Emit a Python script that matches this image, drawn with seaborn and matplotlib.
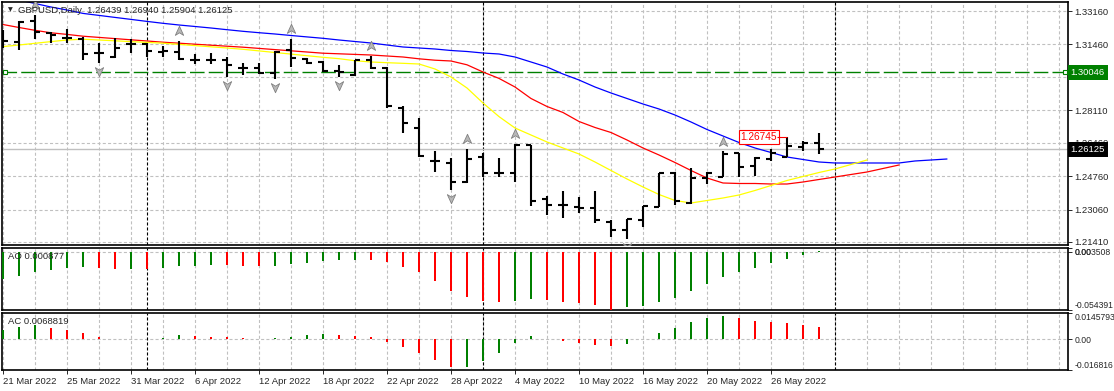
import numpy as np
import pandas as pd
import matplotlib
matplotlib.use("Agg")
import matplotlib.pyplot as plt
import matplotlib.transforms as mtransforms
from matplotlib.path import Path
import seaborn as sns

# ---- data ----
symbol = "GBPUSD"
timeframe = "Daily"

date_labels = ["21 Mar 2022", "25 Mar 2022", "31 Mar 2022", "6 Apr 2022", "12 Apr 2022",
               "18 Apr 2022", "22 Apr 2022", "28 Apr 2022", "4 May 2022", "10 May 2022",
               "16 May 2022", "20 May 2022", "26 May 2022"]
date_label_bars = [0, 4, 8, 12, 16, 20, 24, 28, 32, 36, 40, 44, 48]
month_start_bars = [9, 30, 52]

bar_open = [1.31786, 1.31583, 1.32651, 1.32041, 1.31786, 1.31736, 1.31023, 1.30820, 1.31481, 1.31481,
            1.31074, 1.31074, 1.30667, 1.30667, 1.30667, 1.30260, 1.30260, 1.30006, 1.31176, 1.30718,
            1.30566, 1.30108, 1.29904, 1.30667, 1.30260, 1.28226, 1.27208, 1.25529, 1.25428, 1.24461,
            1.25733, 1.24919, 1.24919, 1.26343, 1.23596, 1.23291, 1.23190, 1.23139, 1.22427, 1.22020,
            1.22529, 1.23190, 1.24919, 1.23393, 1.24665, 1.24715, 1.25936, 1.25275, 1.25631, 1.25733,
            1.26242, 1.26439]
bar_high = [1.32193, 1.32651, 1.32957, 1.32092, 1.32244, 1.31837, 1.31532, 1.31786, 1.31736, 1.31532,
            1.31380, 1.31634, 1.30973, 1.31023, 1.30820, 1.30515, 1.30515, 1.31125, 1.31736, 1.30769,
            1.30617, 1.30413, 1.30667, 1.30871, 1.30311, 1.28327, 1.27717, 1.26038, 1.25682, 1.26140,
            1.25936, 1.25682, 1.26394, 1.26343, 1.23749, 1.24003, 1.23698, 1.23980, 1.22529, 1.22580,
            1.23240, 1.24919, 1.24970, 1.25173, 1.24970, 1.26013, 1.25936, 1.25733, 1.26140, 1.26745,
            1.26547, 1.26940]
bar_low = [1.31278, 1.31176, 1.31736, 1.31532, 1.31532, 1.30667, 1.30515, 1.30769, 1.31023, 1.30820,
           1.30820, 1.30667, 1.30464, 1.30464, 1.29803, 1.29904, 1.29955, 1.29701, 1.30311, 1.30464,
           1.30057, 1.29803, 1.29853, 1.30210, 1.28226, 1.26954, 1.25733, 1.24970, 1.24054, 1.24410,
           1.24715, 1.24715, 1.24461, 1.23240, 1.22783, 1.22630, 1.22885, 1.22376, 1.21664, 1.21562,
           1.22173, 1.23190, 1.23291, 1.23342, 1.24359, 1.24715, 1.24715, 1.24766, 1.25529, 1.25733,
           1.26038, 1.25904]
bar_close = [1.31634, 1.32600, 1.32092, 1.31939, 1.31786, 1.30973, 1.31023, 1.31278, 1.31481, 1.31125,
             1.31125, 1.30718, 1.30667, 1.30667, 1.30413, 1.30260, 1.30006, 1.31074, 1.30769, 1.30515,
             1.30108, 1.30057, 1.30667, 1.30260, 1.28327, 1.27463, 1.25784, 1.25529, 1.24461, 1.25631,
             1.24919, 1.24919, 1.26343, 1.23495, 1.23291, 1.23291, 1.23139, 1.22529, 1.22020, 1.22580,
             1.23240, 1.24919, 1.23495, 1.24665, 1.24919, 1.25886, 1.25224, 1.25682, 1.25936, 1.26292,
             1.26439, 1.26125]

# Alligator lines (already shifted forward: jaw 8, teeth 5, lips 3 bars)
jaw = [1.33872, 1.33720, 1.33542, 1.33363, 1.33211, 1.33038, 1.32936, 1.32834, 1.32733, 1.32631,
       1.32534, 1.32448, 1.32372, 1.32295, 1.32209, 1.32127, 1.32056, 1.31990, 1.31914, 1.31842,
       1.31771, 1.31685, 1.31608, 1.31532, 1.31430, 1.31329, 1.31278, 1.31227, 1.31151, 1.31100,
       1.31023, 1.30973, 1.30820, 1.30566, 1.30311, 1.29955, 1.29650, 1.29294, 1.28989, 1.28709,
       1.28429, 1.28175, 1.27869, 1.27514, 1.27132, 1.26801, 1.26471, 1.26191, 1.25962, 1.25733,
       1.25606, 1.25479, 1.25428, 1.25428, 1.25428, 1.25428, 1.25428, 1.25530, 1.25580, 1.25631]
teeth = [1.32473, 1.32321, 1.32178, 1.32051, 1.31970, 1.31878, 1.31817, 1.31756, 1.31695, 1.31634,
         1.31573, 1.31522, 1.31471, 1.31420, 1.31369, 1.31319, 1.31258, 1.31196, 1.31135, 1.31074,
         1.31013, 1.30983, 1.30952, 1.30922, 1.30871, 1.30820, 1.30728, 1.30657, 1.30617, 1.30423,
         1.30057, 1.29731, 1.29294, 1.28709, 1.28302, 1.27997, 1.27539, 1.27234, 1.26979, 1.26598,
         1.26191, 1.25835, 1.25453, 1.25046, 1.24665, 1.24410, 1.24385, 1.24385, 1.24359, 1.24359,
         1.24461, 1.24589, 1.24715, 1.24843, 1.24970, 1.25148, 1.25326]
lips = [1.31349, 1.31430, 1.31517, 1.31603, 1.31685, 1.31725, 1.31685, 1.31644, 1.31603, 1.31563,
        1.31522, 1.31461, 1.31400, 1.31339, 1.31278, 1.31212, 1.31131, 1.31049, 1.30968, 1.30886,
        1.30805, 1.30734, 1.30632, 1.30566, 1.30530, 1.30499, 1.30464, 1.30210, 1.29803, 1.29243,
        1.28480, 1.27788, 1.27208, 1.26852, 1.26496, 1.26191, 1.25886, 1.25479, 1.25046, 1.24614,
        1.24207, 1.23825, 1.23520, 1.23393, 1.23520, 1.23647, 1.23800, 1.24029, 1.24283, 1.24538,
        1.24741, 1.24944, 1.25123, 1.25351, 1.25580]

ao = [-0.0257, -0.0224, -0.0186, -0.0168, -0.0149, -0.0147, -0.0152, -0.0161, -0.0159, -0.0163,
      -0.0149, -0.0131, -0.0130, -0.0124, -0.0128, -0.0130, -0.0131, -0.0129, -0.0114, -0.0102,
      -0.0084, -0.0080, -0.0074, -0.0077, -0.0093, -0.0140, -0.0186, -0.0270, -0.0364, -0.0420,
      -0.0457, -0.0467, -0.0457, -0.0439, -0.0451, -0.0467, -0.0476, -0.0497, -0.0540, -0.0513,
      -0.0504, -0.0467, -0.0429, -0.0367, -0.0298, -0.0233, -0.0186, -0.0149, -0.0102, -0.0065,
      -0.0028, 0.000877]
ac = [0.0051, 0.0066, 0.0077, 0.0061, 0.0051, 0.0035, 0.0013, 0.0004, 0.0005, 0.0003,
      0.0008, 0.0022, 0.0017, 0.0015, 0.0011, 0.0006, 0.0004, 0.0007, 0.0011, 0.0022,
      0.0028, 0.0022, 0.0021, 0.0011, -0.0015, -0.0042, -0.0077, -0.0114, -0.0153, -0.0151,
      -0.0121, -0.0075, -0.0020, 0.0017, 0.0004, -0.0011, -0.0020, -0.0033, -0.0037, -0.0026,
      0.0003, 0.0033, 0.0061, 0.0094, 0.0121, 0.0132, 0.0116, 0.0099, 0.0094, 0.0088,
      0.0077, 0.0068819]

price_ticks = [1.33160, 1.31460, 1.29810, 1.28110, 1.26460, 1.24760, 1.23060, 1.21410]
price_range = (1.21256, 1.33618)
ao_scale = (-0.054391, 0.003508)
ac_scale = (-0.016816, 0.0145793)
hline_price = 1.30046
hline_anchor_bars = (0.12, 66.38)
fractal_label_price = 1.26745
fractal_label_bar = 49
bar_range = (-0.0625, 66.5625)

# ---- style ----
sns.set_style("white")
plt.rcParams['font.family'] = ['Liberation Sans', 'DejaVu Sans']
plt.rcParams['lines.scale_dashes'] = False
GRID = '#c0c0c0'
FS = 6.8

df = pd.DataFrame({"open": bar_open, "high": bar_high, "low": bar_low, "close": bar_close})
df["bar"] = np.arange(len(df))

fig = plt.figure(figsize=(11.14, 3.91), dpi=100)
W, H = 1114, 391
left, width = 2 / W, 1066 / W
ax = fig.add_axes([left, 1 - 245 / H, width, 243 / H])
ax_ao = fig.add_axes([left, 1 - 310 / H, width, 62 / H])
ax_ac = fig.add_axes([left, 1 - 370 / H, width, 57 / H])

for a in (ax, ax_ao, ax_ac):
    a.set_xlim(*bar_range)
    a.set_xticks(np.arange(0, 67, 2), minor=True)
    a.set_xticks(date_label_bars)
    a.grid(True, which='both', axis='x', color=GRID, lw=0.8, dashes=(2.2, 1.6))
    for b in month_start_bars:
        a.axvline(b, color='black', lw=0.8, dashes=(2.2, 1.4), zorder=1.5)
    for s in a.spines.values():
        s.set_color('black')
        s.set_linewidth(1.2)
    a.yaxis.tick_right()
    a.tick_params(axis='y', which='both', length=3, width=0.7, pad=1.5, labelsize=FS, left=False)
    a.tick_params(axis='x', which='minor', length=0)

ax.tick_params(axis='x', which='both', length=0, labelbottom=False)
ax_ao.tick_params(axis='x', which='both', length=0, labelbottom=False)

# ---- price panel ----
ax.set_ylim(*price_range)
ax.set_yticks(price_ticks)
ax.set_yticklabels([f"{p:.5f}" for p in price_ticks])
ax.grid(True, which='major', axis='y', color=GRID, lw=0.8, dashes=(2.2, 1.6))

ax.axhline(df.close.iloc[-1], color=GRID, lw=1.0, zorder=1.6)
ax.axhline(hline_price, color='#008000', lw=1.0, dashes=(10.5, 3.0), zorder=1.7)
ax.plot(hline_anchor_bars, [hline_price] * 2, ls='none', marker='s', ms=3.2,
        mfc='white', mec='#008000', mew=0.8, zorder=5)

sns.lineplot(x=np.arange(len(jaw)), y=jaw, ax=ax, color='#0000ff', lw=0.9, legend=False, zorder=2)
sns.lineplot(x=np.arange(len(teeth)), y=teeth, ax=ax, color='#ff0000', lw=0.9, legend=False, zorder=2)
sns.lineplot(x=np.arange(len(lips)), y=lips, ax=ax, color='#ffff00', lw=0.9, legend=False, zorder=2)
ax.set_xlabel('')
ax.set_ylabel('')

ax.vlines(df.bar, df.low, df.high, color='black', lw=1.5, zorder=3)
ax.hlines(df.open, df.bar - 0.33, df.bar, color='black', lw=1.5, zorder=3)
ax.hlines(df.close, df.bar, df.bar + 0.33, color='black', lw=1.5, zorder=3)

# Bill Williams fractals
hi, lo = df.high.values, df.low.values
n = len(df)
up_idx = [i for i in range(2, n - 2) if hi[i] > max(hi[i - 2:i]) and hi[i] > max(hi[i + 1:i + 3])]
dn_idx = [i for i in range(2, n - 2) if lo[i] < min(lo[i - 2:i]) and lo[i] < min(lo[i + 1:i + 3])]
up_arrow = Path([(0, 1), (0.8, -0.75), (0, -0.25), (-0.8, -0.75), (0, 1)],
                [Path.MOVETO, Path.LINETO, Path.LINETO, Path.LINETO, Path.CLOSEPOLY])
dn_arrow = Path([(0, -1), (0.8, 0.75), (0, 0.25), (-0.8, 0.75), (0, -1)],
                [Path.MOVETO, Path.LINETO, Path.LINETO, Path.LINETO, Path.CLOSEPOLY])
up_tr = mtransforms.offset_copy(ax.transData, fig=fig, y=7.0, units='points')
dn_tr = mtransforms.offset_copy(ax.transData, fig=fig, y=-6.0, units='points')
ax.plot(up_idx, hi[up_idx], ls='none', marker=up_arrow, ms=7.5, mfc='#b8b8b8', mec='#808080',
        mew=0.6, transform=up_tr, zorder=4)
ax.plot(dn_idx, lo[dn_idx], ls='none', marker=dn_arrow, ms=7.5, mfc='#b8b8b8', mec='#808080',
        mew=0.6, transform=dn_tr, zorder=4)

# fractal price label
ax.text(fractal_label_bar - 0.62, fractal_label_price, f"{fractal_label_price:.5f}", ha='right',
        va='center', color='#ff0000', fontsize=FS + 0.5, zorder=6,
        bbox=dict(boxstyle='square,pad=0.2', fc='white', ec='#ff0000', lw=0.8))
ax.hlines(fractal_label_price, fractal_label_bar - 0.62, fractal_label_bar, color='#ff0000', lw=0.8, zorder=6)

# price boxes on the right axis
ytr = mtransforms.blended_transform_factory(ax.transAxes, ax.transData)
ax.text(1.0025, hline_price, f"{hline_price:.5f}", transform=ytr, ha='left', va='center',
        color='white', fontsize=FS, zorder=10, clip_on=False,
        bbox=dict(boxstyle='square,pad=0.3', fc='#008000', ec='none'))
ax.text(1.0025, df.close.iloc[-1], f"{df.close.iloc[-1]:.5f}", transform=ytr, ha='left', va='center',
        color='white', fontsize=FS, zorder=10, clip_on=False,
        bbox=dict(boxstyle='square,pad=0.3', fc='black', ec='none'))

# title
fig.text(8 / W, 1 - 10 / H, "\u25bc", fontsize=4.5, va='center', ha='left', family='DejaVu Sans')
last = df.iloc[-1]
fig.text(18 / W, 1 - 10.5 / H,
         f"{symbol},{timeframe}  {last.open:.5f} {last.high:.5f} {last.low:.5f} {last.close:.5f}",
         fontsize=FS, va='center', ha='left')

# ---- oscillators ----
def osc_colors(vals):
    d = np.diff(np.asarray(vals), prepend=-np.inf)
    return ['#008000' if v > 0 else '#ff0000' for v in d]

for a, vals, scale, name, fmt in ((ax_ao, ao, ao_scale, "AO", "{:.6f}"),
                                  (ax_ac, ac, ac_scale, "AC", "{:.7f}")):
    a.bar(np.arange(len(vals)), vals, width=0.16, color=osc_colors(vals), linewidth=0, zorder=3)
    a.set_ylim(*scale)
    a.axhline(0, color=GRID, lw=0.8, dashes=(2.2, 1.6), zorder=1)
    a.set_yticks([scale[0], 0, scale[1]])
    top_txt = f"{scale[1]:.7f}".rstrip('0')
    bot_txt = f"{scale[0]:.6f}"
    a.set_yticklabels([bot_txt, "0.00", top_txt], fontsize=6.2)
    labs = a.get_yticklabels()
    labs[0].set_va('bottom')
    labs[2].set_va('top')
    a.text(6 / 1066, 1 - 4 / (62 if name == "AO" else 57), f"{name} {fmt.format(vals[-1])}",
           transform=a.transAxes, ha='left', va='top', fontsize=FS, zorder=6)

ax_ac.set_xticklabels(date_labels, ha='left', fontsize=FS)
ax_ac.tick_params(axis='x', which='major', length=3, width=0.7, pad=2, direction='out', bottom=True)

fig.savefig("out.png", dpi=100, facecolor='white')
